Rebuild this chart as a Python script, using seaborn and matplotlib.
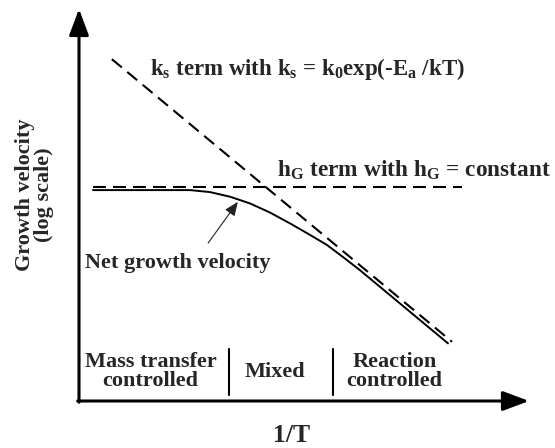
import numpy as np
import seaborn as sns
import matplotlib.pyplot as plt

# schematic values (arbitrary units: x = 1/T, y = log velocity)
ks_x = [0.73, 8.29]
ks_y = [8.72, 1.51]

hg_x = [0.31, 8.51]
hg_y = [5.46, 5.46]

net_x = [0.31, 2.47, 2.91, 3.36, 3.80, 4.24, 4.69, 5.13, 5.51, 5.87, 6.24, 8.20]
net_y = [5.38, 5.38, 5.33, 5.21, 5.04, 4.81, 4.53, 4.24, 3.98, 3.67, 3.34, 1.47]

region_labels = ["Mass transfer\ncontrolled", "Mixed", "Reaction\ncontrolled"]
region_centers = [1.59, 4.36, 7.01]
region_edges = [3.33, 5.64]

sns.set_theme(style="white")
plt.rcParams["font.family"] = ["Liberation Serif", "DejaVu Serif"]
plt.rcParams["font.weight"] = "bold"
plt.rcParams["mathtext.default"] = "regular"

fig = plt.figure(figsize=(5.55, 4.48), dpi=100)
ax = fig.add_axes([79 / 555, 47 / 448, 450 / 555, 392 / 448])
ax.set_xlim(0, 10)
ax.set_ylim(0, 10)
ax.set_axis_off()

dash = (0, (6.2, 3.4))
sns.lineplot(x=ks_x, y=ks_y, ax=ax, color="black", lw=1.5, linestyle=dash)
sns.lineplot(x=hg_x, y=hg_y, ax=ax, color="black", lw=1.5, linestyle=dash)
sns.lineplot(x=net_x, y=net_y, ax=ax, color="black", lw=1.4)

# axes with arrow heads
head = "-|>,head_length=0.8,head_width=0.3"
ax.annotate("", xy=(0, 10), xytext=(0, -0.03), annotation_clip=False,
            arrowprops=dict(arrowstyle=head, lw=2.2, color="black", mutation_scale=20, shrinkA=0, shrinkB=0))
ax.annotate("", xy=(10, 0), xytext=(-0.03, 0), annotation_clip=False,
            arrowprops=dict(arrowstyle=head, lw=2.2, color="black", mutation_scale=20, shrinkA=0, shrinkB=0))

ax.text(1.58, 8.32, r"k$_{s}$ term with k$_{s}$ = k$_{0}$exp(-E$_{a}$ /kT)",
        fontsize=16.5, fontweight="bold", va="baseline", ha="left")
ax.text(4.40, 5.71, r"h$_{G}$ term with h$_{G}$ = constant",
        fontsize=16.8, fontweight="bold", va="baseline", ha="left")
ax.text(0.13, 3.39, "Net growth velocity", fontsize=16, fontweight="bold",
        va="baseline", ha="left")
ax.annotate("", xy=(3.53, 5.08), xytext=(2.87, 4.03),
            arrowprops=dict(arrowstyle="-|>,head_length=0.6,head_width=0.25", lw=0.8,
                            color="#222222", mutation_scale=14, shrinkA=0, shrinkB=0))

for lab, cx in zip(region_labels, region_centers):
    ax.text(cx, 0.75, lab, fontsize=16, fontweight="bold", ha="center", va="center",
            linespacing=0.95)
for ex in region_edges:
    ax.plot([ex, ex], [0.15, 1.33], color="black", lw=1.5)

ax.text(4.73, -1.05, "1/T", fontsize=18.5, fontweight="bold", ha="center", va="baseline",
        clip_on=False)
ax.text(-0.99, 5.26, "Growth velocity\n(log scale)", fontsize=16, fontweight="bold",
        rotation=90, ha="center", va="center", linespacing=0.95, clip_on=False)

fig.savefig("out.png", dpi=100)
